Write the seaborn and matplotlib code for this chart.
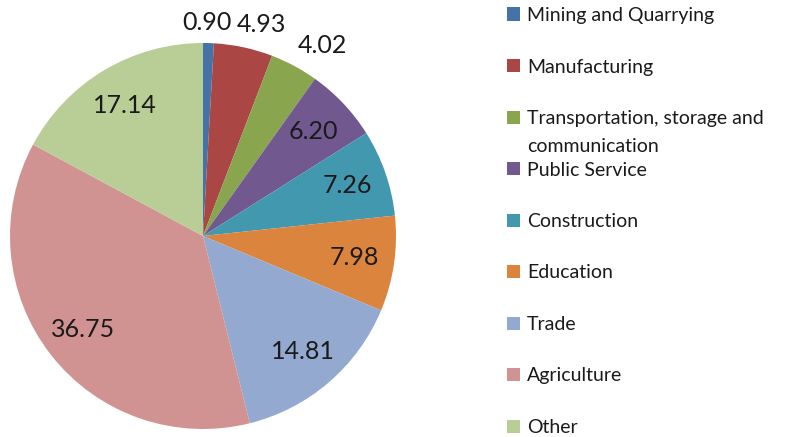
import numpy as np
import matplotlib
matplotlib.use("Agg")
import matplotlib.pyplot as plt
import seaborn as sns
from matplotlib.patches import Rectangle

sns.set_theme(style="white")
plt.rcParams['font.family'] = ['Lato', 'DejaVu Sans']

sectors = ['Mining and Quarrying', 'Manufacturing',
           'Transportation, storage and\ncommunication', 'Public Service',
           'Construction', 'Education', 'Trade', 'Agriculture', 'Other']
shares = [0.90, 4.93, 4.02, 6.20, 7.26, 7.98, 14.81, 36.75, 17.14]
colors = ['#4572A7', '#AA4643', '#89A54E', '#71588F', '#4198AF',
          '#DB843D', '#93A9CF', '#D19392', '#B9CD96']

W, H = 800, 437
fig = plt.figure(figsize=(W / 100, H / 100), dpi=100)

# pie: centre (203, 236) px from top-left, radius 193 px
cx, cy, r = 203, 236, 193
ax = fig.add_axes([(cx - r) / W, (H - cy - r) / H, 2 * r / W, 2 * r / H])
wedges, _ = ax.pie(shares, colors=colors, startangle=90, counterclock=False,
                   wedgeprops=dict(linewidth=0))
ax.set_xlim(-1, 1)
ax.set_ylim(-1, 1)
ax.set_aspect('equal')
ax.axis('off')

# small slices get their labels outside, nudged sideways (pixels) like Excel
outside_nudge = {0: (-2, -3), 1: (13, 0), 2: (17, 0)}
for i, (w, v) in enumerate(zip(wedges, shares)):
    ang = np.deg2rad((w.theta1 + w.theta2) / 2)
    d = 1.12 if v < 5 else 0.79
    ax.annotate(f"{v:.2f}", (d * np.cos(ang), d * np.sin(ang)),
                xytext=outside_nudge.get(i, (0, 0)), textcoords='offset pixels',
                ha='center', va='center', fontsize=18, color='#1a1a1a',
                annotation_clip=False)

# legend drawn by hand so the wrapped entry keeps the even row spacing
row0, step, line_gap = 14, 51.5, 28
for i, (name, c) in enumerate(zip(sectors, colors)):
    y = H - (row0 + step * i)
    fig.patches.append(Rectangle((507 / W, (y - 6.5) / H), 13 / W, 13 / H,
                                 transform=fig.transFigure, facecolor=c,
                                 edgecolor='none'))
    for k, line in enumerate(name.split('\n')):
        fig.text(527 / W, (y - k * line_gap) / H, line, ha='left',
                 va='center_baseline', fontsize=14, color='#1a1a1a')

fig.savefig('out.png', dpi=100, facecolor='white')
